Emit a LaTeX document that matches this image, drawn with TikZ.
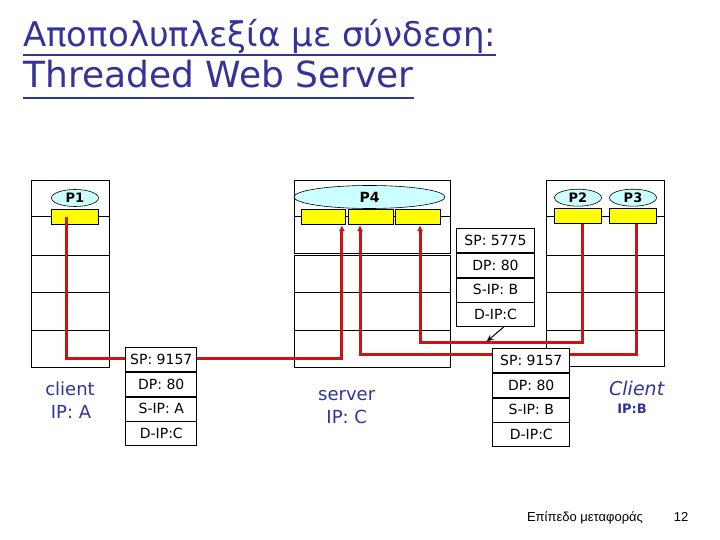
\documentclass[tikz,border=0pt]{standalone}
\usepackage{fontspec}
\setmainfont{DejaVu Sans}
\newfontfamily\footfont{Liberation Sans}
\usetikzlibrary{arrows.meta,positioning,shapes.geometric}
\definecolor{dmxInk}{HTML}{33339A}
\definecolor{dmxRed}{HTML}{CC1414}
\definecolor{dmxCyan}{HTML}{CCFFFF}
\definecolor{dmxYellow}{HTML}{FFFF00}
\definecolor{dmxLine}{HTML}{000000}
\tikzset{
  host/.style={draw=dmxLine,line width=0.8pt,inner sep=0pt},
  layer/.style={draw=dmxLine,line width=0.8pt},
  app/.style={ellipse,draw=dmxLine,line width=0.6pt,fill=dmxCyan,inner sep=0pt,
              minimum height=17pt,font=\fontsize{13}{13}\selectfont\bfseries},
  sock/.style={draw=dmxLine,line width=0.6pt,fill=dmxYellow,inner sep=0pt,
               minimum width=47pt,minimum height=15pt},
  hdr/.style={draw=dmxLine,line width=0.8pt,fill=white,inner sep=0pt,
              minimum height=24pt,font=\fontsize{14}{14}\selectfont},
  wire/.style={draw=dmxRed,line width=3pt},
  wirein/.style={wire,-{Latex[length=6pt,width=6pt]}},
  ptr/.style={-{Stealth[length=7pt,width=6pt]},line width=1pt},
  lbl/.style={text=dmxInk,inner sep=0pt,anchor=base,font=\fontsize{18}{18}\selectfont},
  ttl/.style={text=dmxInk,inner sep=0pt,anchor=base west,font=\fontsize{34}{34}\selectfont},
}

\begin{document}
\begin{tikzpicture}[x=1pt,y=-1pt]
  \useasboundingbox (0,0) rectangle (720,540);

  % title
  \node[ttl] (t1) at (23,47) {Αποπολυπλεξία με σύνδεση:};
  \node[ttl,font=\fontsize{36}{36}\selectfont] (t2) at (23,88) {Threaded Web Server};
  \draw[dmxInk,line width=2pt] ([yshift=-8pt]t1.base west) -- ([yshift=-8pt]t1.base east);
  \draw[dmxInk,line width=2pt] ([yshift=-10pt]t2.base west) -- ([yshift=-10pt]t2.base east);

  % hosts
  \node[host,minimum width=78pt,minimum height=187pt] (hostA) at (70,273.5) {};
  \node[host,minimum width=156pt,minimum height=73pt] (srvTop) at (372.5,216.7) {};
  \node[host,minimum width=156pt,minimum height=112pt] (srv) at (372.5,311.2) {};
  \node[host,minimum width=118pt,minimum height=186pt] (hostB) at (605.5,273.7) {};
  \foreach \y in {216.7,255,292.3,330.5} {
    \draw[layer] (31,\y) -- (109,\y);
    \draw[layer] (546.5,\y) -- (664.5,\y);
  }
  \foreach \y in {216.7,292.3,330.5}
    \draw[layer] (294.5,\y) -- (450.5,\y);

  % processes and sockets
  \node[app,minimum width=47pt] (p1) at (75,198) {P1};
  \node[sock,below=2pt of p1] (sA) {};
  \node[app,minimum width=151pt,minimum height=23pt,font=\fontsize{14}{14}\selectfont\bfseries] (p4) at (369.5,197) {P4};
  \node[sock,minimum width=44pt] (ss1) at (322.9,217.3) {};
  \node[sock,minimum width=45pt] (ss2) at (370.8,217.3) {};
  \node[sock,minimum width=45pt] (ss3) at (417.8,217.3) {};
  \node[app,minimum width=47pt] (p2) at (578,197.7) {P2};
  \node[app,minimum width=47pt] (p3) at (633,197.7) {P3};
  \node[sock,below=2pt of p2] (sP2) {};
  \node[sock,below=2pt of p3] (sP3) {};

  % connections
  \draw[wirein] ([xshift=-8.3pt]sA.center) -- ++(0,142) -| ([xshift=19pt]ss1.south);
  \draw[wirein] ([xshift=4.7pt]sP2.south) -- ++(0,118) -| ([xshift=2.2pt]ss3.south);
  \draw[wirein] ([xshift=3.7pt]sP3.south) -- ++(0,130) -| ([xshift=-10.8pt]ss2.south);

  % segments
  \node[hdr,minimum width=71pt] (a1) at (161.3,359.3) {SP: 9157};
  \node[hdr,minimum width=71pt,below=0pt of a1] (a2) {DP: 80};
  \node[hdr,minimum width=71pt,below=0pt of a2] (a3) {S-IP: A};
  \node[hdr,minimum width=71pt,below=0pt of a3] (a4) {D-IP:C};

  \node[hdr,minimum width=78pt] (s1) at (495.5,240.3) {SP: 5775};
  \node[hdr,minimum width=78pt,below=0pt of s1] (s2) {DP: 80};
  \node[hdr,minimum width=78pt,below=0pt of s2] (s3) {S-IP: B};
  \node[hdr,minimum width=78pt,below=0pt of s3] (s4) {D-IP:C};

  \node[hdr,minimum width=77pt] (b1) at (531.3,360.3) {SP: 9157};
  \node[hdr,minimum width=77pt,below=0pt of b1] (b2) {DP: 80};
  \node[hdr,minimum width=77pt,below=0pt of b2] (b3) {S-IP: B};
  \node[hdr,minimum width=77pt,below=0pt of b3] (b4) {D-IP:C};

  \coordinate (onwire) at (486.7,341.5);
  \draw[ptr] ([xshift=8pt]s4.south) -- (onwire);

  % labels
  \node[lbl] (cA1) at (70,395) {client};
  \node[lbl] (cA2) at (71,418) {IP: A};
  \node[lbl] (cS1) at (346.7,400) {server};
  \node[lbl] (cS2) at (346.7,423) {IP: C};
  \node[lbl,font=\fontsize{19}{19}\selectfont\itshape] (cB1) at (636.7,395.5) {Client};
  \node[lbl,font=\fontsize{13}{13}\selectfont\bfseries] (cB2) at (632,413.3) {IP:B};

  % footer
  \node[inner sep=0pt,anchor=base,font=\footfont\fontsize{13}{13}\selectfont] (ft) at (585,521) {Επίπεδο μεταφοράς};
  \node[inner sep=0pt,anchor=base,font=\footfont\fontsize{13}{13}\selectfont] (pg) at (681,521) {12};
\end{tikzpicture}
\end{document}
